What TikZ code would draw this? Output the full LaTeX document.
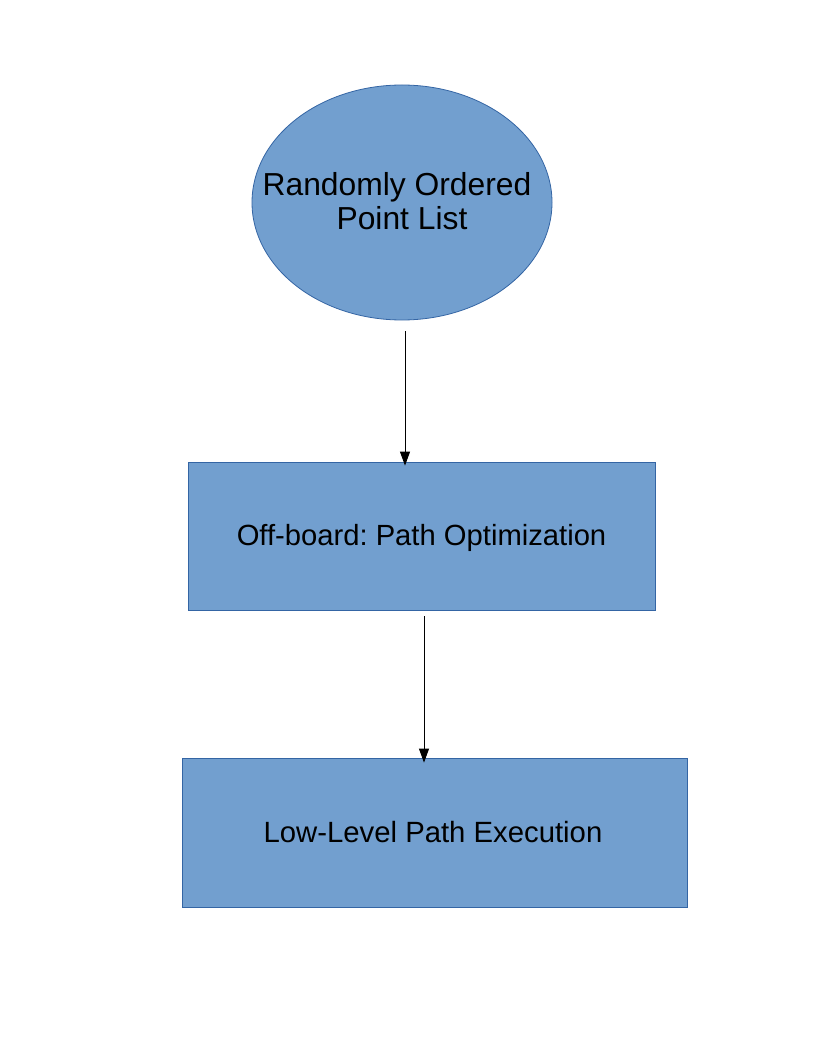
\documentclass[tikz,border=0pt]{standalone}
\usepackage{fontspec}
\setmainfont{Liberation Sans}
\usetikzlibrary{shapes.geometric,arrows.meta}
\definecolor{fillblue}{HTML}{729FCF}
\definecolor{edgeblue}{HTML}{3465A4}
\frenchspacing
\begin{document}
\begin{tikzpicture}[x=1pt,y=-1pt,
  blk/.style={draw=edgeblue,fill=fillblue,line width=0.8pt,inner sep=0pt,text=black},
  lbl/.style={inner sep=0pt,text=black,align=center},
  arr/.style={-{Triangle[length=14pt,width=10pt]},line width=0.9pt,black}]
\useasboundingbox[fill=white] (0,0) rectangle (816,1056);
\node[blk,ellipse,minimum width=300pt,minimum height=235pt] (e) at (402,202.5) {};
\node[lbl,font=\fontsize{31.8}{34}\selectfont] (et) at ([xshift=-5pt,yshift=1pt]e.center) {Randomly Ordered\\\hspace*{10pt}Point List};
\node[blk,rectangle,minimum width=467pt,minimum height=148pt,
  font=\fontsize{29.2}{34}\selectfont,text depth=2pt] (b1) at (421.5,536) {Off-board: Path Optimization};
\node[blk,rectangle,minimum width=505pt,minimum height=149pt,
  font=\fontsize{29.3}{34}\selectfont] (b2) at (434.5,832.5) {\hspace*{-3pt}Low-Level Path Execution};
\draw[arr] ([xshift=3pt,yshift=-11pt]e.south) -- ([xshift=-16.5pt,yshift=-4pt]b1.north);
\draw[arr] ([xshift=2.5pt,yshift=-6pt]b1.south) -- ([xshift=-10.5pt,yshift=-5pt]b2.north);
\end{tikzpicture}
\end{document}
